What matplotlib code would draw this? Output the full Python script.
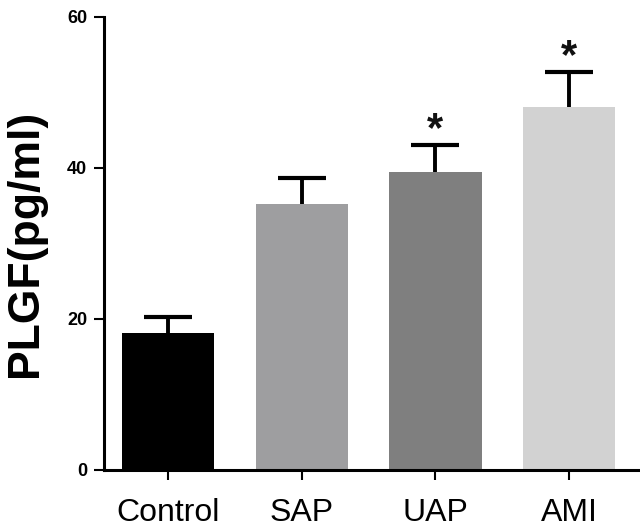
import matplotlib
matplotlib.use("Agg")
import matplotlib.pyplot as plt

categories = ["Control", "SAP", "UAP", "AMI"]
means = [18.2, 35.2, 39.5, 48.1]
errors = [2.0, 3.4, 3.5, 4.6]
colors = ["#000000", "#9e9ea0", "#7f7f7f", "#d2d2d2"]
significant = [False, False, True, True]
yticks = [0, 20, 40, 60]

plt.rcParams['font.family'] = ['Liberation Sans', 'DejaVu Sans']

fig = plt.figure(figsize=(6.4, 5.28), dpi=100)
ax = fig.add_axes([0.1625, 0.110, 0.8375, 0.858])

x = list(range(len(categories)))
ax.bar(x, means, width=0.69, color=colors, zorder=2)
# upper-only error bars: vertical stem + top cap
tops = [m + e for m, e in zip(means, errors)]
ax.vlines(x, means, tops, color='black', linewidth=2.8, zorder=3)
ax.plot(x, tops, linestyle='none', marker='_', color='black',
        markersize=34, markeredgewidth=3.0, zorder=3)

for xi, t, s in zip(x, tops, significant):
    if s:
        ax.text(xi, t + 2.0, "*", ha='center', va='center', fontsize=30,
                fontweight='bold', color='#111111')

ax.set_xlim(-0.48, 3.53)
ax.set_ylim(0, 60)
ax.set_yticks(yticks)
ax.set_xticks(x)
ax.set_xticklabels(categories, fontsize=23)
for lab in ax.get_yticklabels():
    lab.set_fontsize(13)
    lab.set_fontweight('bold')
ax.set_ylabel("PLGF(pg/ml)", fontsize=32, fontweight='bold')
ax.yaxis.set_label_coords(-0.108, 0.5)

for side in ['top', 'right']:
    ax.spines[side].set_visible(False)
for side in ['left', 'bottom']:
    ax.spines[side].set_linewidth(2.2)
ax.tick_params(axis='y', length=7, width=1.5, pad=5)
ax.tick_params(axis='x', length=7, width=1.5, pad=13)

fig.savefig("out.png", dpi=100)
